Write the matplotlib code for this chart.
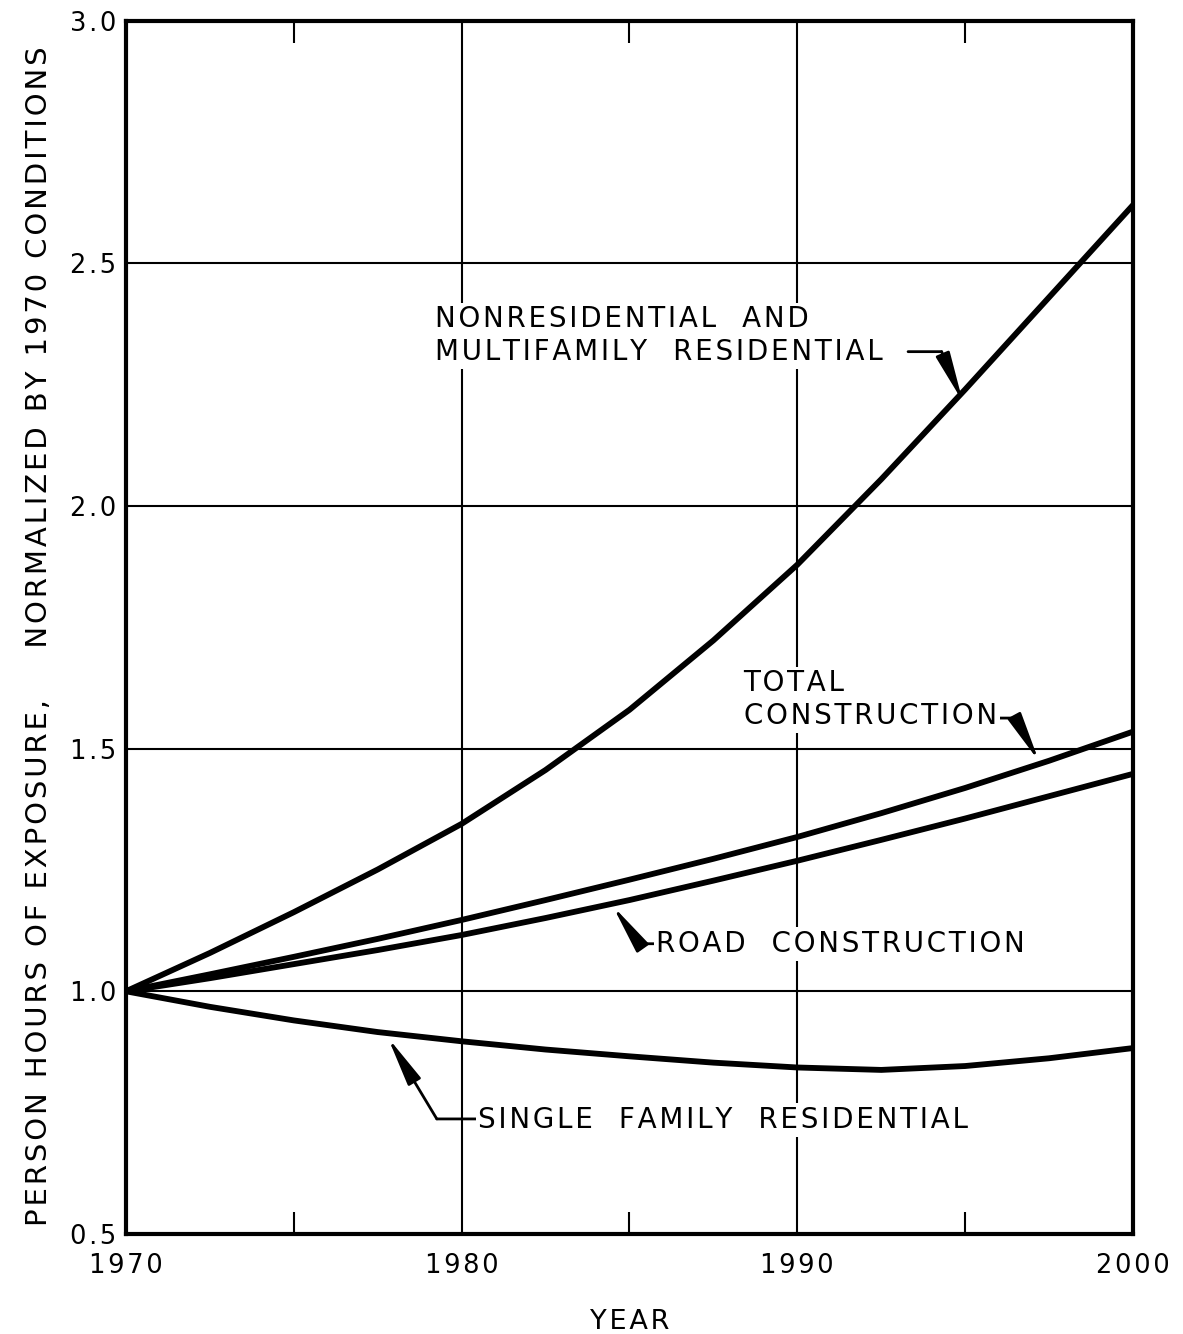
import matplotlib
matplotlib.use("Agg")
import matplotlib.pyplot as plt
from matplotlib.ticker import MultipleLocator

plt.rcParams["font.family"] = ["DejaVu Sans"]

# values, every 2.5 years
years = [1970, 1972.5, 1975, 1977.5, 1980, 1982.5, 1985, 1987.5, 1990, 1992.5, 1995, 1997.5, 2000]
nonresidential = [1.000, 1.079, 1.163, 1.251, 1.345, 1.456, 1.580, 1.723, 1.879, 2.055, 2.240, 2.430, 2.620]
total_construction = [1.000, 1.035, 1.071, 1.108, 1.147, 1.188, 1.230, 1.273, 1.318, 1.367, 1.419, 1.475, 1.535]
road_construction = [1.000, 1.027, 1.056, 1.085, 1.116, 1.151, 1.188, 1.228, 1.269, 1.312, 1.356, 1.402, 1.448]
single_family = [1.000, 0.968, 0.940, 0.916, 0.897, 0.880, 0.866, 0.853, 0.843, 0.838, 0.846, 0.862, 0.883]

x_ticks = [1970, 1980, 1990, 2000]
y_ticks = [0.5, 1.0, 1.5, 2.0, 2.5, 3.0]


def spaced(s):
    # the original lettering is set wide, so pad letters with hair spaces
    return "\n".join("\u200a".join(line) for line in s.split("\n"))


fig = plt.figure(figsize=(11.83, 13.34), dpi=100)
ax = fig.add_axes([0.1065, 0.075, 0.8512, 0.9095])

for series in (nonresidential, total_construction, road_construction, single_family):
    ax.plot(years, series, color="black", lw=4.2, solid_joinstyle="round", zorder=3)

ax.set_xlim(1970, 2000)
ax.set_ylim(0.5, 3.0)
ax.set_xticks(x_ticks)
ax.set_xticklabels([spaced(str(t)) for t in x_ticks])
ax.set_yticks(y_ticks)
ax.set_yticklabels([spaced(f"{t:.1f}") for t in y_ticks])
ax.xaxis.set_minor_locator(MultipleLocator(5))
ax.grid(True, which="major", color="black", lw=1.5)
ax.set_axisbelow(True)
ax.tick_params(which="major", length=0, labelsize=18.5)
ax.tick_params(axis="x", which="major", pad=14)
ax.tick_params(axis="y", which="major", pad=7)
ax.tick_params(axis="x", which="minor", direction="in", length=16, width=1.5, top=True, bottom=True)
for spine in ax.spines.values():
    spine.set_linewidth(3)

fig.text(0.532, 0.004, spaced("YEAR"), fontsize=19.5, ha="center", va="baseline")
fig.text(0.033, 0.523, spaced("PERSON HOURS OF EXPOSURE,    NORMALIZED BY 1970 CONDITIONS"),
         fontsize=21, rotation=90, ha="center", va="center")

box = dict(facecolor="white", edgecolor="none", pad=2)
label_kw = dict(fontsize=20, ha="left", va="center", bbox=box, zorder=4, linespacing=1.2)
arrow_kw = dict(arrowstyle="-|>,head_length=1.5,head_width=0.22", color="black", lw=2,
                mutation_scale=20, shrinkA=0, shrinkB=0)
line_kw = dict(arrowstyle="-", color="black", lw=2, shrinkA=0, shrinkB=0)

# nonresidential label
ax.text(1979.2, 2.351, spaced("NONRESIDENTIAL  AND\nMULTIFAMILY  RESIDENTIAL"), **label_kw)
ax.annotate("", xy=(1994.3, 2.318), xytext=(1993.3, 2.318), arrowprops=line_kw)
ax.annotate("", xy=(1994.93, 2.215), xytext=(1994.3, 2.318), arrowprops=arrow_kw)

# total construction label
ax.text(1988.4, 1.601, spaced("TOTAL\nCONSTRUCTION"), **label_kw)
ax.annotate("", xy=(1996.5, 1.563), xytext=(1995.9, 1.563), arrowprops=line_kw)
ax.annotate("", xy=(1997.2, 1.474), xytext=(1996.5, 1.563), arrowprops=arrow_kw)

# road construction label
ax.text(1985.8, 1.098, spaced("ROAD  CONSTRUCTION"), **label_kw)
ax.annotate("", xy=(1985.3, 1.098), xytext=(1985.75, 1.098), arrowprops=line_kw)
ax.annotate("", xy=(1984.5, 1.176), xytext=(1985.3, 1.098), arrowprops=arrow_kw)

# single family label
ax.text(1980.5, 0.735, spaced("SINGLE  FAMILY  RESIDENTIAL"), **label_kw)
ax.annotate("", xy=(1979.26, 0.737), xytext=(1980.45, 0.737), arrowprops=line_kw)
ax.annotate("", xy=(1977.8, 0.905), xytext=(1979.26, 0.737), arrowprops=arrow_kw)

fig.savefig("out.png", dpi=100)
